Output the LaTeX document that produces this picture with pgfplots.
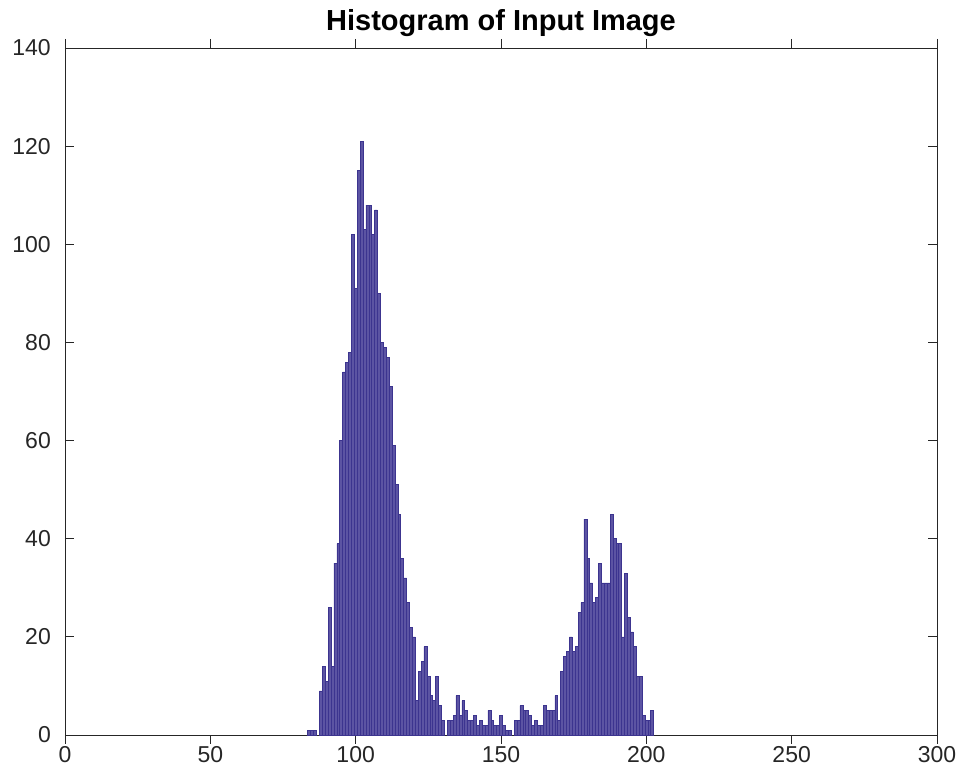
\documentclass[border=0pt]{standalone}
\usepackage{pgfplots}
\pgfplotsset{compat=1.18}
\usepackage{fontspec}
\setmainfont{Liberation Sans}
\definecolor{axgray}{RGB}{38,38,38}
\definecolor{barfill}{RGB}{92,84,163}
\definecolor{baredge}{RGB}{60,52,143}
\begin{document}
\begin{tikzpicture}
\begin{axis}[
  scale only axis, width=872pt, height=687pt,
  xmin=0, xmax=300, ymin=0, ymax=140,
  xtick={0,50,...,300}, ytick={0,20,...,140},
  tick align=inside, major tick length=9pt,
  axis line style={axgray, line width=0.8pt},
  tick style={axgray, line width=0.8pt},
  ticklabel style={font=\fontsize{23}{26}\selectfont, text=axgray},
  /pgf/number format/assume math mode=true,
  yticklabel style={anchor=east, inner sep=0pt, xshift=-14pt},
  xticklabel style={anchor=north, inner sep=0pt, yshift=-2pt},
  title={Histogram of Input Image},
  title style={font=\bfseries\fontsize{29}{32}\selectfont, text=black, at={(0.5,1)}, anchor=base, yshift=11pt},
  ybar, bar width=1, bar shift=0pt,
]
\addplot[fill=barfill, draw=baredge, line width=0.5pt] coordinates {
(84,1) (85,1) (86,1) (88,9) (89,14) (90,11) (91,26) (92,14) (93,35) (94,39)
(95,60) (96,74) (97,76) (98,78) (99,102) (100,91) (101,115) (102,121) (103,103) (104,108)
(105,108) (106,102) (107,107) (108,90) (109,80) (110,79) (111,77) (112,71) (113,59) (114,51)
(115,45) (116,36) (117,32) (118,27) (119,22) (120,20) (121,7) (122,13) (123,15) (124,18)
(125,12) (126,8) (127,7) (128,12) (129,6) (130,3) (132,3) (133,3) (134,4) (135,8)
(136,4) (137,7) (138,5) (139,3) (140,3) (141,4) (142,2) (143,3) (144,2) (145,2)
(146,5) (147,3) (148,2) (149,2) (150,4) (151,2) (152,1) (153,1) (155,3) (156,3)
(157,6) (158,5) (159,5) (160,4) (161,2) (162,3) (163,2) (164,2) (165,6) (166,5)
(167,5) (168,5) (169,8) (170,3) (171,13) (172,16) (173,17) (174,20) (175,17) (176,18)
(177,25) (178,27) (179,44) (180,36) (181,31) (182,27) (183,28) (184,35) (185,31) (186,31)
(187,31) (188,45) (189,40) (190,39) (191,39) (192,20) (193,33) (194,24) (195,21) (196,18)
(197,12) (198,12) (199,4) (200,3) (201,3) (202,5)
};
\end{axis}
\path (current axis.south west) ++(-65pt,-43pt);
\path (current axis.north east) ++(20pt,48pt);
\end{tikzpicture}
\end{document}
